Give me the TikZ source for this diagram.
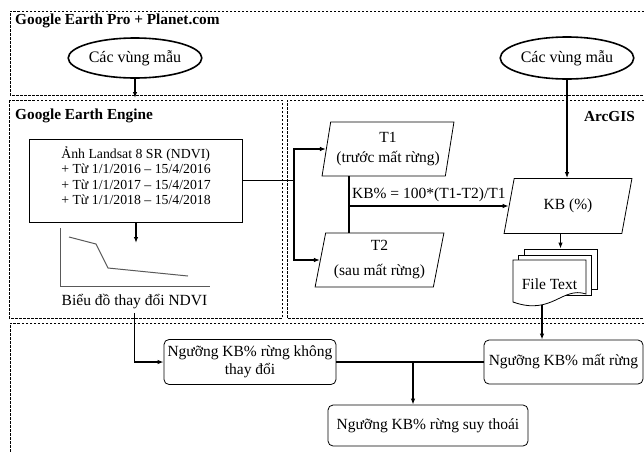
\documentclass[tikz,border=0pt]{standalone}
\usepackage{fontspec}
\setmainfont{Liberation Serif}
\usetikzlibrary{shapes.geometric,arrows.meta}

\begin{document}
\begin{tikzpicture}
  [x=1pt, y=-1pt,
   font=\fontsize{15.5}{18}\selectfont,
   khung/.style={dash pattern=on 2.5pt off 1.5pt, line width=0.8pt},
   tieude/.style={inner sep=0pt, font=\fontsize{15.3}{18}\selectfont\bfseries},
   vung/.style={ellipse, draw, line width=1.6pt, inner sep=1pt,
                font=\fontsize{16}{18}\selectfont},
   hop/.style={draw, rounded corners=5pt, line width=0.8pt, align=center,
               inner xsep=2pt},
   dulieu/.style={trapezium, trapezium left angle=77,
                  trapezium right angle=103, trapezium stretches=true,
                  draw, line width=0.8pt, align=center, inner sep=0pt},
   noi/.style={line width=1.3pt},
   mui/.style={noi, -{Latex[length=6pt,width=4.5pt]}}]

  \useasboundingbox (0,0) rectangle (644,453);

  % Các khung nét đứt
  \draw[khung] (644,11) -- (10,11) -- (10,95) -- (644,95);
  \draw[khung] (9,100) rectangle (282,318);
  \draw[khung] (644,100) -- (287,100) -- (287,318) -- (644,318);
  \draw[khung] (644,323) -- (10,323) -- (10,453);

  % Tên các khung
  \node[tieude, anchor=west] (gep) at (15,21) {Google Earth Pro + Planet.com};
  \node[tieude, anchor=west] (gee) at (15,116) {Google Earth Engine};
  \node[tieude, anchor=east] (arc) at (635,117) {ArcGIS};

  % Vùng mẫu
  \node[vung, minimum width=104pt, minimum height=40pt] (vung1) at (135,58) {Các vùng mẫu};
  \node[vung, minimum width=115pt, minimum height=42pt] (vung2) at (567,58) {Các vùng mẫu};
  \coordinate (vaogee) at (135,98);

  % Ảnh Landsat và biểu đồ NDVI
  \node[draw, line width=0.8pt, minimum width=213pt, minimum height=83pt] (landsat) at (136,180.5) {};
  \node[align=left, font=\fontsize{13.8}{15.5}\selectfont] (landsattxt) at ([yshift=5pt]landsat.center)
    {Ảnh Landsat 8 SR (NDVI)\\+ Từ 1/1/2016 – 15/4/2016\\+ Từ 1/1/2017 – 15/4/2017\\+ Từ 1/1/2018 – 15/4/2018};
  \coordinate (dothi) at (136,243);
  \draw[black!65, line width=1pt] (60,228) -- (60,286) -- (210,286);
  \draw[black!65, line width=1pt] (69,237) -- (96,244) -- (108,268) -- (188,276);
  \node (bieudo) at (134.5,302) {Biểu đồ thay đổi NDVI};

  % T1, T2 và KB
  \node[dulieu, minimum width=132pt, minimum height=54pt] (t1) at (388,149) {T1\\[2pt](trước mất rừng)};
  \node[dulieu, minimum width=129pt, minimum height=54pt] (t2) at (379.5,260) {T2\\[7pt](sau mất rừng)};
  \node[dulieu, trapezium left angle=72, trapezium right angle=108,
        minimum width=128pt, minimum height=55pt] (kb) at (568,206) {KB (\%)};
  \coordinate (tach) at (294,180.5);
  \coordinate (tinh) at (349,206);

  % File Text
  \node[draw, fill=white, line width=0.8pt, minimum width=73pt, minimum height=40pt, inner sep=0pt] (tepsau) at (560.5,269) {};
  \node[draw, fill=white, line width=0.8pt, minimum width=73pt, minimum height=40pt, inner sep=0pt] (tepgiua) at (555,275) {};
  \draw[fill=white, line width=0.8pt] (513,260) -- (586,260) -- (586,294)
    .. controls (562,286) and (552,316) .. (513,302) -- cycle;
  \node (tep) at (549.5,284) {File Text};
  \coordinate (tepday) at (542,305);

  % Các ngưỡng KB%
  \node[hop, minimum width=172pt, minimum height=45pt] (khong) at (250,362) {Ngưỡng KB\% rừng không\\thay đổi};
  \node[hop, minimum width=159pt, minimum height=44pt] (mat) at (563.5,362) {Ngưỡng KB\% mất rừng};
  \node[hop, minimum width=200pt, minimum height=41pt] (suythoai) at (428,425.5) {Ngưỡng KB\% rừng suy thoái};
  \coordinate (gop) at (413,362);

  % Các mũi tên
  \draw[mui] (vung1) -- (vaogee);
  \draw[mui] (landsat.south -| dothi) -- (dothi);
  \draw[noi] (landsat.east) -- (tach);
  \draw[mui] (tach) |- (t1);
  \draw[mui] (tach) |- (t2);
  \draw[noi] (tinh |- t1.south) -- (tinh |- t2.north);
  \draw[mui] (tinh) -- (tinh -| kb.west) node[midway, above] {KB\% = 100*(T1-T2)/T1};
  \draw[mui] (vung2) -- (vung2 |- kb.north);
  \draw[mui] (kb.south -| tepsau) -- (tepsau.north);
  \draw[mui] (tepday) -- (tepday |- mat.north);
  \draw[mui] (bieudo.south) |- (khong);
  \draw[noi] (khong) -- (mat);
  \draw[mui] (gop) -- (gop |- suythoai.north);
\end{tikzpicture}
\end{document}
